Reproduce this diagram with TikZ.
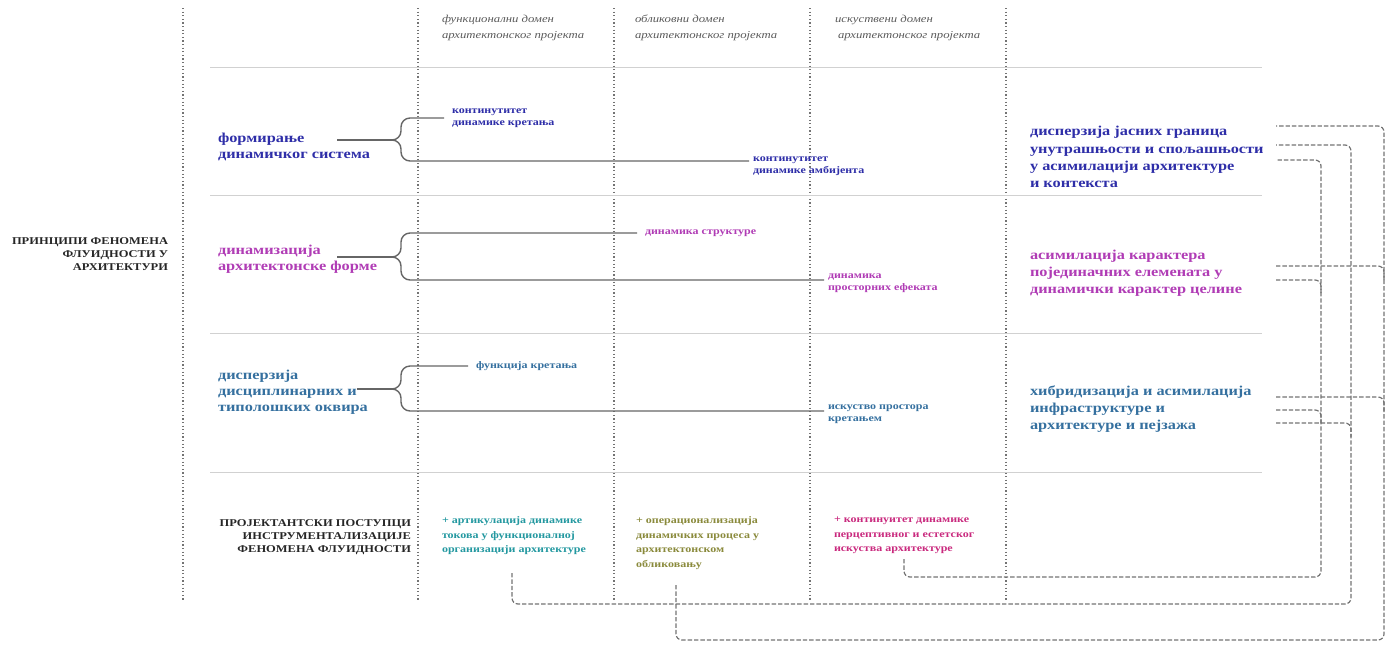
\documentclass[tikz,border=0pt]{standalone}
\usepackage{fontspec}
\setmainfont[FakeStretch=1.2]{Liberation Serif}
\usetikzlibrary{calc}

\definecolor{cblue}{HTML}{2E2EA8}
\definecolor{cviolet}{HTML}{B03CB5}
\definecolor{csteel}{HTML}{35709F}
\definecolor{cteal}{HTML}{2398A0}
\definecolor{colive}{HTML}{8A8A3C}
\definecolor{cmag}{HTML}{C92A7E}
\definecolor{chead}{HTML}{5A5A5A}

\tikzset{
  guide/.style={draw=black!55, line width=0.6pt, dash pattern=on 0.6pt off 1.2pt},
  rule/.style={draw=black!18, line width=0.5pt},
  brc/.style={draw=black!60, line width=0.7pt, rounded corners=4.5pt},
  link/.style={draw=black!55, line width=0.6pt, dash pattern=on 2.2pt off 1pt, rounded corners=3pt},
  txt/.style={inner sep=0pt, outer sep=0pt, align=left},
  head/.style={txt, anchor=north west, text=chead, font=\fontsize{5.3}{8}\selectfont\itshape},
  caps/.style={txt, align=right, anchor=east, text=black!85, font=\fontsize{5.2}{6.6}\selectfont\bfseries},
  lab/.style={txt, anchor=west, font=\fontsize{6.8}{8}\selectfont\bfseries},
  sublab/.style={txt, anchor=west, font=\fontsize{5}{6}\selectfont\bfseries},
  big/.style={txt, anchor=west, font=\fontsize{6.8}{8.6}\selectfont\bfseries},
  proc/.style={txt, anchor=north west, font=\fontsize{5}{7.2}\selectfont\bfseries},
}

\begin{document}
\begin{tikzpicture}[x=0.5pt,y=-0.5pt]
\useasboundingbox (0,0) rectangle (1393,671);

% column guides and row rules
\foreach \x in {183,418,614,810,1006} \draw[guide] (\x,8) -- (\x,600);
\foreach \y in {67,195,333,472} \draw[rule] (210,\y) -- (1262,\y);

% column headings
\node[head] (h1) at (442,15) {функционални домен\\архитектонског пројекта};
\node[head] (h2) at (635,15) {обликовни домен\\архитектонског пројекта};
\node[head] (h3) at (835,15) {искуствени домен\\\hspace{1.5pt}архитектонског пројекта};

% side heading
\node[caps] (princ) at (168,254) {ПРИНЦИПИ ФЕНОМЕНА\\ФЛУИДНОСТИ У\\АРХИТЕКТУРИ};

% ---- row 1
\node[lab, text=cblue] (l1) at (218,147) {формирање\\динамичког система};
\coordinate (s1) at (337,140);
\coordinate (k1) at (401,140);
\node[sublab, text=cblue] (a1) at (452,118) {континутитет\\динамике кретања};
\node[sublab, text=cblue, anchor=north west] (b1) at (753,157) {континутитет\\динамике амбијента};
\coordinate (t1) at ($(b1.north west)+(-4,4)$);
\node[big, text=cblue] (r1) at (1030,157) {дисперзија јасних граница\\унутрашњости и спољашњости\\у асимилацији архитектуре\\и контекста};
\draw[brc] ([xshift=-4pt]a1.west) -- (a1.west -| k1) -- (k1) -- ([xshift=-4pt]k1);
\draw[brc] ([xshift=-4pt]k1) -- (k1) -- (t1 -| k1) -- (t1);
\draw[brc] (s1) -- ([xshift=-4pt]k1);

% ---- row 2
\node[lab, text=cviolet] (l2) at (218,259) {динамизација\\архитектонске форме};
\coordinate (s2) at (337,257);
\coordinate (k2) at (401,257);
\node[sublab, text=cviolet] (a2) at (645,233) {динамика структуре};
\node[sublab, text=cviolet, anchor=north west] (b2) at (828,274) {динамика\\просторних ефеката};
\coordinate (t2) at ($(b2.north west)+(-4,6)$);
\node[big, text=cviolet] (r2) at (1030,273) {асимилација карактера\\појединачних елемената у\\динамички карактер целине};
\draw[brc] ([xshift=-4pt]a2.west) -- (a2.west -| k2) -- (k2) -- ([xshift=-4pt]k2);
\draw[brc] ([xshift=-4pt]k2) -- (k2) -- (t2 -| k2) -- (t2);
\draw[brc] (s2) -- ([xshift=-4pt]k2);

% ---- row 3
\node[lab, text=csteel] (l3) at (218,392) {дисперзија\\дисциплинарних и\\типолошких оквира};
\coordinate (s3) at (357,389);
\coordinate (k3) at (401,389);
\node[sublab, text=csteel] (a3) at (476,366) {функција кретања};
\node[sublab, text=csteel, anchor=north west] (b3) at (828,405) {искуство простора\\кретањем};
\coordinate (t3) at ($(b3.north west)+(-4,6)$);
\node[big, text=csteel] (r3) at (1030,409) {хибридизација и асимилација\\инфраструктуре и\\архитектуре и пејзажа};
\draw[brc] ([xshift=-4pt]a3.west) -- (a3.west -| k3) -- (k3) -- ([xshift=-4pt]k3);
\draw[brc] ([xshift=-4pt]k3) -- (k3) -- (t3 -| k3) -- (t3);
\draw[brc] (s3) -- ([xshift=-4pt]k3);

% ---- design procedures
\node[caps] (proj) at (411,537) {ПРОЈЕКТАНТСКИ ПОСТУПЦИ\\ИНСТРУМЕНТАЛИЗАЦИЈЕ\\ФЕНОМЕНА ФЛУИДНОСТИ};
\node[proc, text=cteal] (q1) at (442,517) {+ артикулација динамике\\токова у функционалној\\организацији архитектуре};
\node[proc, text=colive] (q2) at (636,517) {+ операционализација\\динамичких процеса у\\архитектонском\\обликовању};
\node[proc, text=cmag] (q3) at (834,517) {+ континуитет динамике\\перцептивног и естетског\\искуства архитектуре};

% ends of the feedback links
\coordinate (e1) at (512,573);
\coordinate (e2) at (676,585);
\coordinate (e3) at (904,559);
\coordinate (p1a) at (1276,126);
\coordinate (p1b) at (1276,145);
\coordinate (p1c) at (1276,160);
\coordinate (p2a) at (1276,266);
\coordinate (p2b) at (1276,280);
\coordinate (p3a) at (1276,397);
\coordinate (p3b) at (1276,410);
\coordinate (p3c) at (1276,423);
\coordinate (vin) at (1321,0);
\coordinate (vmid) at (1351,0);
\coordinate (vout) at (1384,0);
\coordinate (yin) at (0,577);
\coordinate (ymid) at (0,604);
\coordinate (yout) at (0,640);

% outer link: form-making domain
\draw[link] (e2) -- (e2 |- yout) -- (vout |- yout) -- (vout |- p1a) -- (p1a);
\draw[link] (p2a) -- (vout |- p2a) -- ($(vout |- p2a)+(0,14)$);
\draw[link] (p3a) -- (vout |- p3a) -- ($(vout |- p3a)+(0,14)$);
% middle link: functional domain
\draw[link] (e1) -- (e1 |- ymid) -- (vmid |- ymid) -- (vmid |- p1b) -- (p1b);
\draw[link] (p3c) -- (vmid |- p3c) -- ($(vmid |- p3c)+(0,14)$);
% inner link: experiential domain
\draw[link] (e3) -- (e3 |- yin) -- (vin |- yin) -- (vin |- p1c) -- (p1c);
\draw[link] (p2b) -- (vin |- p2b) -- ($(vin |- p2b)+(0,14)$);
\draw[link] (p3b) -- (vin |- p3b) -- ($(vin |- p3b)+(0,14)$);
\end{tikzpicture}
\end{document}
